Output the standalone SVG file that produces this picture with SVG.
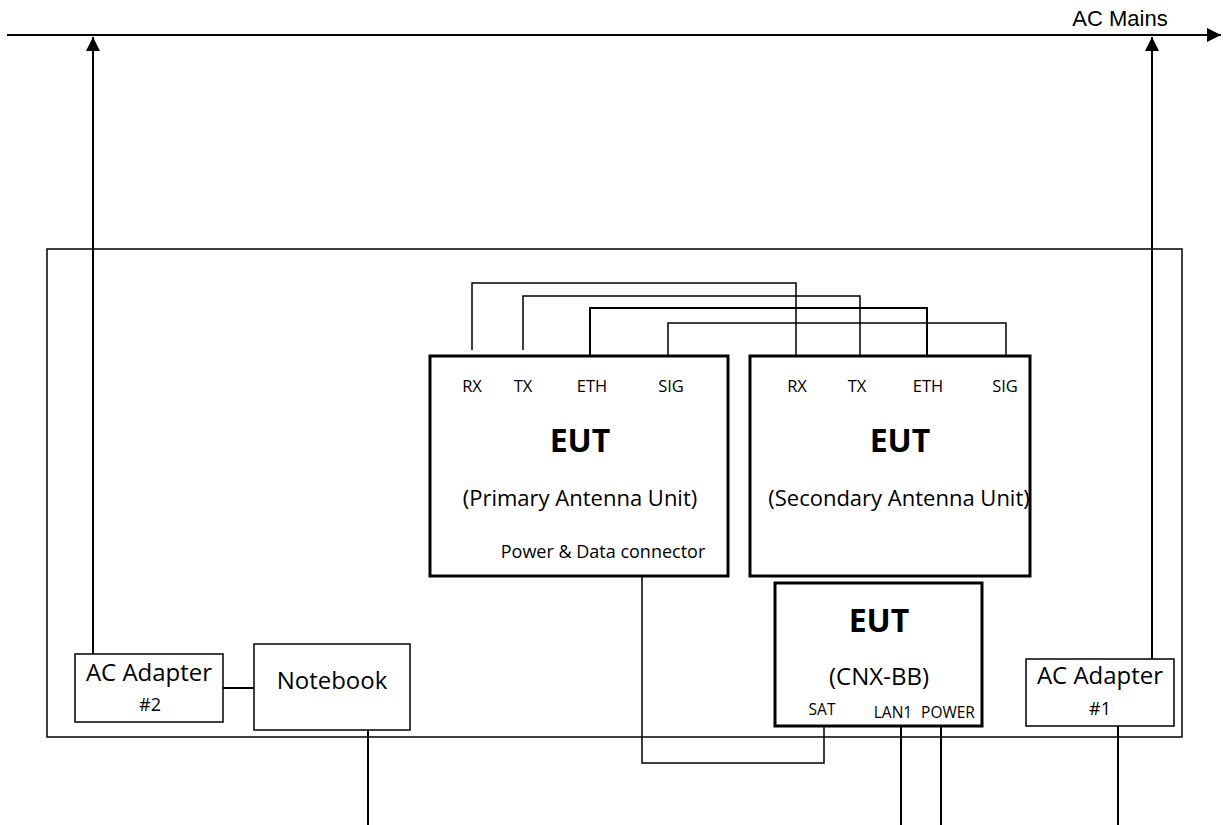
<svg xmlns="http://www.w3.org/2000/svg" width="1223" height="825" viewBox="0 0 1223 825">
<style>
.thin{fill:#fff;stroke:#000;stroke-width:1.5}
.thick{fill:#fff;stroke:#000;stroke-width:3}
.w{fill:none;stroke:#000;stroke-width:1.5}
.a{fill:none;stroke:#000;stroke-width:2}
.t{font-family:"Open Sans","DejaVu Sans",sans-serif;fill:#000;text-anchor:middle}
.b{font-weight:bold}
.p{font-size:16.5px}
.s{font-size:15.5px}
.m{font-size:22px}
.l{font-size:24px}
.e{font-size:32px}
</style>
<defs>
<marker id="ah" viewBox="0 0 10 10" refX="10" refY="5" markerWidth="7" markerHeight="7" orient="auto" markerUnits="strokeWidth">
<path d="M0,0 L10,5 L0,10 z" fill="#000"/>
</marker>
</defs>
<rect x="0" y="0" width="1223" height="825" fill="#fff"/>
<g id="room"><rect x="47" y="249" width="1135" height="488" fill="none" stroke="#000" stroke-width="1.5"/></g>
<g id="connectors">
<line class="a" x1="7" y1="35" x2="1221" y2="35" marker-end="url(#ah)"/>
<line class="a" x1="93" y1="654" x2="93" y2="37" marker-end="url(#ah)"/>
<line class="a" x1="1152" y1="659" x2="1152" y2="37" marker-end="url(#ah)"/>
<polyline class="w" points="472,350 472,283 796,283 796,355"/>
<polyline class="w" points="523,350 523,296 860,296 860,355"/>
<polyline class="a" points="590,355 590,308 927,308 927,355"/>
<polyline class="w" points="668,358 668,323 1006,323 1006,355"/>
<polyline class="w" points="642,577 642,763 824,763 824,726"/>
<line class="a" x1="901" y1="726" x2="901" y2="825"/>
<line class="a" x1="941" y1="726" x2="941" y2="825"/>
<line class="a" x1="368" y1="730" x2="368" y2="825"/>
<line class="a" x1="1118" y1="726" x2="1118" y2="825"/>
<line class="a" x1="223" y1="688" x2="254" y2="688"/>
</g>
<text x="1120" y="26" font-family="Liberation Sans,Arial,sans-serif" font-size="22" text-anchor="middle">AC Mains</text>
<g id="primary">
<rect class="thick" x="430" y="356" width="298" height="220"/>
<text class="t p" x="472" y="392">RX</text>
<text class="t p" x="523" y="392">TX</text>
<text class="t p" x="592" y="392">ETH</text>
<text class="t p" x="671" y="392">SIG</text>
<text class="t b e" x="580" y="452">EUT</text>
<text class="t m" x="580" y="506">(Primary Antenna Unit)</text>
<text class="t" font-size="18" x="603" y="558">Power &amp; Data connector</text>
</g>
<g id="secondary">
<rect class="thick" x="750" y="356" width="280" height="220"/>
<text class="t p" x="797" y="392">RX</text>
<text class="t p" x="857" y="392">TX</text>
<text class="t p" x="928" y="392">ETH</text>
<text class="t p" x="1005" y="392">SIG</text>
<text class="t b e" x="900" y="452">EUT</text>
<text class="t m" x="899" y="506">(Secondary Antenna Unit)</text>
</g>
<g id="cnxbb">
<rect class="thick" x="775" y="583" width="207" height="143"/>
<text class="t b e" x="879" y="632">EUT</text>
<text class="t l" x="879" y="685">(CNX-BB)</text>
<text class="t s" x="822" y="715">SAT</text>
<text class="t s" x="893" y="718">LAN1</text>
<text class="t s" x="948" y="718">POWER</text>
</g>
<g id="adapter2">
<rect class="thin" x="75" y="654" width="148" height="68"/>
<text class="t l" x="149" y="681">AC Adapter</text>
<text class="t" font-size="18" x="150" y="711">#2</text>
</g>
<g id="notebook">
<rect class="thin" x="254" y="644" width="156" height="86"/>
<text class="t l" x="332" y="689">Notebook</text>
</g>
<g id="adapter1">
<rect class="thin" x="1026" y="659" width="148" height="67"/>
<text class="t l" x="1100" y="684">AC Adapter</text>
<text class="t" font-size="18" x="1100" y="715">#1</text>
</g>
</svg>
